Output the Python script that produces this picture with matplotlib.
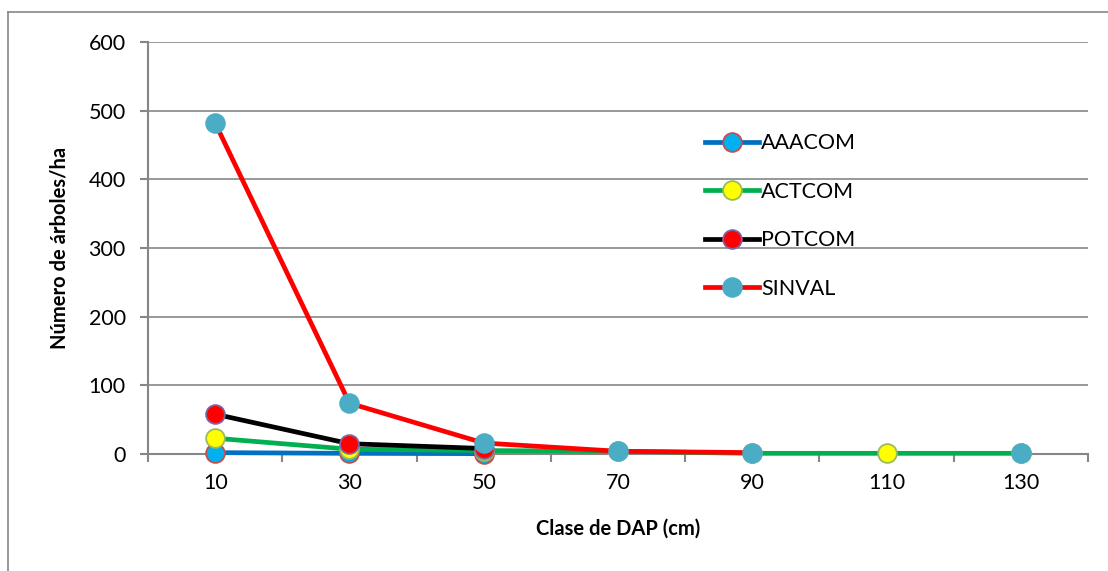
import matplotlib.pyplot as plt
import numpy as np
from matplotlib.lines import Line2D

plt.rcParams['font.family'] = ['Lato', 'DejaVu Sans']

# clases diamétricas (cm)
clases = ['10', '30', '50', '70', '90', '110', '130']

# árboles por hectárea según calidad de fuste
aaacom = [2, 1, 0.5, np.nan, np.nan, np.nan, np.nan]
actcom = [23, 7, 5, 4, 1, 1, 1]
potcom = [58, 15, 8, np.nan, np.nan, np.nan, np.nan]
sinval = [482, 74, 16, 4, 2, np.nan, 1]

series = [
    ('AAACOM', aaacom, '#0070C0', '#00B0F0', '#C0504D'),
    ('ACTCOM', actcom, '#00B050', '#FFFF00', '#9BBB59'),
    ('POTCOM', potcom, '#000000', '#FF0000', '#8064A2'),
    ('SINVAL', sinval, '#FF0000', '#4BACC6', '#4BACC6'),
]

fig = plt.figure(figsize=(11.08, 5.71), dpi=100)
ax = fig.add_axes([0.1336, 0.2049, 0.8484, 0.7215])

x = np.arange(len(clases))
for nombre, vals, lc, fc, ec in series:
    ax.plot(x, vals, color=lc, lw=3.4, marker='o', markersize=13.5,
            markerfacecolor=fc, markeredgecolor=ec, markeredgewidth=1.3,
            label=nombre, zorder=3, clip_on=False)

ax.set_xlim(-0.5, len(clases) - 0.5)
ax.set_ylim(0, 600)
ax.set_yticks(range(0, 601, 100))
ax.set_xticks(x)
ax.set_xticklabels(clases)
ax.set_xticks(np.arange(-0.5, len(clases), 1), minor=True)
ax.tick_params(axis='x', which='major', length=0, pad=14, labelsize=15.5)
ax.tick_params(axis='x', which='minor', length=6, width=1.5, color='#868686')
ax.tick_params(axis='y', length=6, width=1.5, color='#868686', pad=10, labelsize=15.5)

ax.grid(axis='y', color='#868686', lw=1.2)
ax.set_axisbelow(True)
for lado in ['top', 'right']:
    ax.spines[lado].set_visible(False)
for lado in ['left', 'bottom']:
    ax.spines[lado].set_color('#868686')
    ax.spines[lado].set_linewidth(1.5)

ax.set_xlabel('Clase de DAP (cm)', fontsize=14.5, fontweight='bold', labelpad=18)
ax.set_ylabel('Número de árboles/ha', fontsize=14.5, fontweight='bold', labelpad=14)

ax.legend(loc='upper left', bbox_to_anchor=(0.572, 0.825), frameon=False,
          fontsize=15.5, numpoints=1, handlelength=2.5, handletextpad=0.1,
          labelspacing=1.32)

# marco exterior del gráfico
fig.add_artist(Line2D([8 / 1108, 8 / 1108], [0, 1 - 12 / 571], color='#868686', lw=1.2))
fig.add_artist(Line2D([8 / 1108, 1], [1 - 12 / 571, 1 - 12 / 571], color='#868686', lw=1.2))

fig.savefig('out.png', dpi=100)
